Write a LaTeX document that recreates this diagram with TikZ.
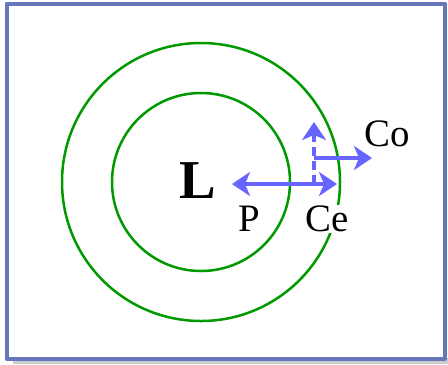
\documentclass[tikz,border=0pt]{standalone}
\usepackage{fontspec}
\setmainfont{Liberation Serif}
\usetikzlibrary{arrows.meta}
\definecolor{framecol}{RGB}{102,119,187}
\definecolor{ringgreen}{RGB}{0,153,0}
\definecolor{arrowblue}{RGB}{102,102,255}
\tikzset{
  ring/.style={ringgreen,line width=2.5bp},
  vec/.style={arrowblue,line width=3.5bp},
  lbl/.style={font=\fontsize{39}{39}\selectfont,inner sep=1bp}
}

\begin{document}
\begin{tikzpicture}[x=1bp,y=-1bp,>={Stealth[length=18bp,width=24bp,inset=5bp]},line join=round]
  \useasboundingbox (0,0) rectangle (448,364);
  % frame with its shadow
  \fill[black!20] (13,358) rectangle (448,364);
  \fill[white] (6.5,3.5) rectangle (444.5,358.5);
  \draw[framecol,line width=4bp] (6.5,3.5) rectangle (444.5,358.5);
  % the two rings
  \coordinate (O) at (201,182);
  \draw[ring] (O) circle[radius=139];
  \draw[ring] (O) circle[radius=89];
  \node[font=\fontsize{55}{55}\selectfont\bfseries,inner sep=0pt] (L) at (198,181) {L};
  % arrows
  \coordinate (pl) at (232,184);
  \coordinate (pr) at (337,184);
  \draw[vec,<->] (pl) -- (pr);
  \coordinate (cebase) at (314,184);
  \coordinate (ceup) at (314,122);
  \draw[vec,->,dash pattern=on 9bp off 5bp] (cebase) -- (ceup);
  \coordinate (cobase) at (314,158);
  \coordinate (coend) at (372,158);
  \draw[vec,->] (cobase) -- (coend);
  % labels
  \node[lbl] (P) at (249,219) {P};
  \node[lbl,fill=white] (Ce) at (327,219) {Ce};
  \node[lbl] (Co) at (387,134) {Co};
\end{tikzpicture}
\end{document}
